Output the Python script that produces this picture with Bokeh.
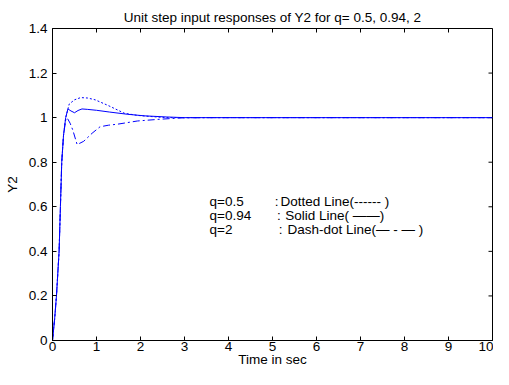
import math
from bokeh.plotting import figure
from bokeh.models import Range1d, FixedTicker, ColumnDataSource
from bokeh.embed import file_html
from bokeh.resources import INLINE

# ---- data ----
t_q05 = [0, 0.05, 0.09, 0.15, 0.18, 0.21, 0.25, 0.30, 0.38, 0.50, 0.64, 0.80, 0.97, 1.27, 1.63, 1.93, 2.30, 2.60, 3.00, 10]
y_q05 = [0, 0.10, 0.20, 0.40, 0.60, 0.80, 0.92, 1.00, 1.061, 1.080, 1.090, 1.088, 1.080, 1.054, 1.020, 1.010, 1.004, 1.000, 1.000, 1.000]

t_q094 = [0, 0.05, 0.09, 0.15, 0.18, 0.21, 0.25, 0.30, 0.35, 0.42, 0.50, 0.58, 0.67, 0.80, 1.00, 1.30, 1.71, 2.10, 2.60, 3.00, 10]
y_q094 = [0, 0.10, 0.20, 0.40, 0.60, 0.80, 0.92, 1.00, 1.039, 1.030, 1.022, 1.032, 1.039, 1.037, 1.033, 1.025, 1.015, 1.008, 1.003, 1.000, 1.000]

t_q2 = [0, 0.05, 0.09, 0.15, 0.18, 0.21, 0.25, 0.30, 0.33, 0.40, 0.46, 0.56, 0.71, 0.90, 1.08, 1.27, 1.49, 1.93, 2.45, 2.96, 3.50, 10]
y_q2 = [0, 0.10, 0.20, 0.40, 0.60, 0.80, 0.92, 0.99, 1.000, 0.975, 0.945, 0.879, 0.894, 0.930, 0.959, 0.966, 0.971, 0.985, 0.993, 0.999, 1.000, 1.000]

x_ticks = [0, 1, 2, 3, 4, 5, 6, 7, 8, 9, 10]
y_ticks = [0, 0.2, 0.4, 0.6, 0.8, 1.0, 1.2, 1.4]
y_tick_labels = ["0", "0.2", "0.4", "0.6", "0.8", "1", "1.2", "1.4"]

legend_q = ["q=0.5", "q=0.94", "q=2"]
legend_desc = ["Dotted Line(------ )", "Solid Line( \u2014\u2014)", "Dash-dot Line(\u2014 - \u2014 )"]

title_text = "Unit step input responses of Y2 for q= 0.5, 0.94, 2"
FONT = "Liberation Sans"
FS = "13.5px"
X_MIN, X_MAX = 0, 10
Y_MIN, Y_MAX = 0, 1.4

p = figure(width=493, height=369, output_backend="svg", toolbar_location=None,
           x_range=Range1d(X_MIN, X_MAX), y_range=Range1d(Y_MIN, Y_MAX),
           min_border_left=52, min_border_right=1, min_border_top=28, min_border_bottom=0)
p.background_fill_color = "white"
p.border_fill_color = "white"
p.outline_line_color = "black"
p.xgrid.visible = False
p.ygrid.visible = False

p.title.text = title_text
p.title.align = "center"
p.title.text_font = FONT
p.title.text_font_size = FS
p.title.text_font_style = "normal"
p.title.text_color = "black"
p.title.standoff = 7

def style_axis(ax):
    ax.axis_line_color = "black"
    ax.major_tick_line_color = "black"
    ax.major_tick_in = 4
    ax.major_tick_out = 0
    ax.minor_tick_in = 0
    ax.minor_tick_out = 0
    ax.minor_tick_line_color = None
    ax.major_label_text_font = FONT
    ax.major_label_text_font_size = FS
    ax.major_label_text_color = "black"
    ax.axis_label_text_font = FONT
    ax.axis_label_text_font_size = FS
    ax.axis_label_text_font_style = "normal"
    ax.axis_label_text_color = "black"

xax = p.xaxis[0]
xax.ticker = FixedTicker(ticks=x_ticks)
xax.axis_label = "Time in sec"
xax.major_label_standoff = 1
xax.axis_label_standoff = -2
style_axis(xax)

yax = p.yaxis[0]
yax.ticker = FixedTicker(ticks=y_ticks)
yax.major_label_overrides = {v: s for v, s in zip(y_ticks, y_tick_labels)}
yax.axis_label = "Y2"
yax.major_label_standoff = 5
yax.axis_label_standoff = 6
style_axis(yax)

# inward tick marks on the top and right edges of the box
p.ray(x=x_ticks, y=[Y_MAX] * len(x_ticks), length=4, angle=-math.pi / 2,
      length_units="screen", line_color="black", line_width=1)
p.ray(x=[X_MAX] * len(y_ticks), y=y_ticks, length=4, angle=math.pi,
      length_units="screen", line_color="black", line_width=1)

BLUE = "#0000ff"
p.line(t_q05, y_q05, line_color=BLUE, line_width=1, line_dash="2 2")
p.line(t_q2, y_q2, line_color=BLUE, line_width=1, line_dash="7 3 2 3")
p.line(t_q094, y_q094, line_color=BLUE, line_width=1)

# text block describing the line styles (positions in data units)
ly = [0.625, 0.562, 0.499]
src_q = ColumnDataSource(dict(x=[3.57, 3.57, 3.57], y=ly, text=legend_q))
src_c = ColumnDataSource(dict(x=[5.05, 5.10, 5.14], y=ly, text=[":", ":", ":"]))
src_d = ColumnDataSource(dict(x=[5.18, 5.29, 5.34], y=ly, text=legend_desc))
for s in (src_q, src_c, src_d):
    p.text(x="x", y="y", text="text", source=s, text_font={"value": FONT},
           text_font_size={"value": FS}, text_color="black",
           text_baseline="middle", text_align="left")

open("out.html", "w").write(file_html(p, INLINE))
